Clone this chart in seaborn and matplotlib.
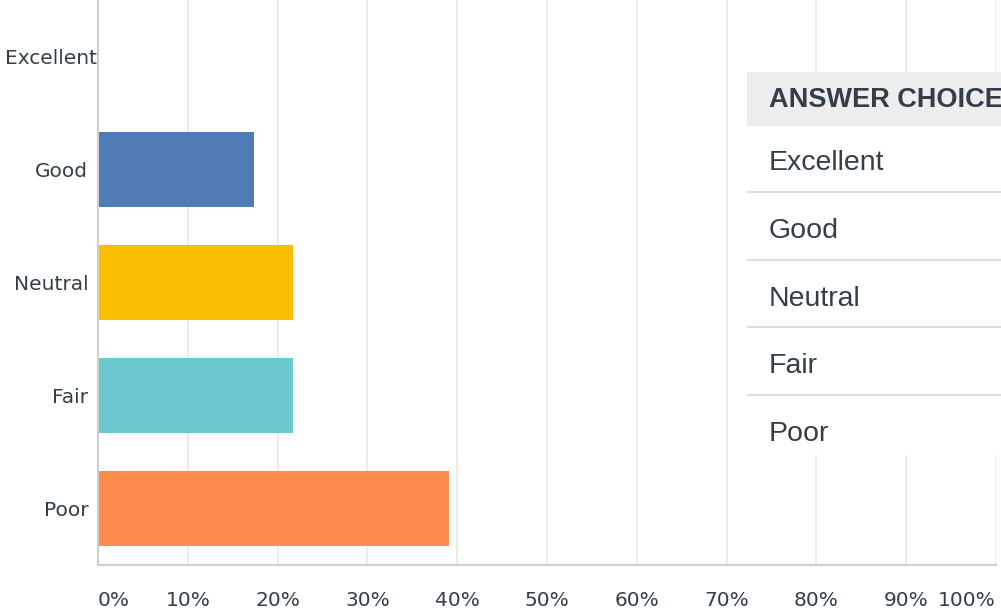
import numpy as np
import pandas as pd

import matplotlib.pyplot as plt
import matplotlib.transforms as mtransforms
from matplotlib.patches import Rectangle
import seaborn as sns

# survey answers (share of respondents, %)
categories = ["Excellent", "Good", "Neutral", "Fair", "Poor"]
shares = [0.0, 17.39, 21.74, 21.74, 39.13]
bar_colors = ["#00bf6f", "#507cb6", "#f9be00", "#6bc8cd", "#ff8b4f"]
tick_values = list(range(0, 101, 10))
tick_labels = [f"{v}%" for v in tick_values]
table_header = "ANSWER CHOICES"

text_color = "#333e48"

sns.set_theme(style="white")
plt.rcParams["font.family"] = ["DejaVu Sans"]

df = pd.DataFrame({"answer": categories, "share": shares})

fig = plt.figure(figsize=(10.01, 6.10), dpi=100)
ax = fig.add_axes([98 / 1001, 45 / 610, 898 / 1001, 565 / 610])

sns.barplot(data=df, x="share", y="answer", hue="answer", palette=bar_colors,
            order=categories, width=0.66, linewidth=0, saturation=1,
            legend=False, ax=ax)

ax.set_xlim(0, 100)
ax.set_ylim(4.5, -0.5)
ax.set_xticks(tick_values)
ax.set_xticklabels(tick_labels)
ax.xaxis.grid(True, color="#e8e8e8", linewidth=1.2)
ax.set_axisbelow(True)
ax.set_xlabel("")
ax.set_ylabel("")
for side in ["top", "right"]:
    ax.spines[side].set_visible(False)
for side in ["left", "bottom"]:
    ax.spines[side].set_color("#cfcfcf")
    ax.spines[side].set_linewidth(1.5)
ax.tick_params(axis="x", length=0, pad=19, labelsize=14.5, labelcolor=text_color)
ax.tick_params(axis="y", length=0, pad=7, labelsize=14.5, labelcolor=text_color)
xl = ax.get_xticklabels()
xl[0].set_horizontalalignment("left")
xl[-1].set_horizontalalignment("right")

# the long top label sits a little further right, as in the original
yl = ax.get_yticklabels()
shift = mtransforms.ScaledTranslation(9 / 100, 0, fig.dpi_scale_trans)
yl[0].set_transform(yl[0].get_transform() + shift)

# answer table panel overlapping the chart on the right
tab = fig.add_axes([747 / 1001, (610 - 455) / 610, 254 / 1001, (455 - 72) / 610])
tab.set_xlim(0, 254)
tab.set_ylim(455, 72)
tab.set_facecolor("white")
tab.axis("off")
tab.add_patch(Rectangle((0, 72), 254, 383, color="white", zorder=0))
tab.add_patch(Rectangle((0, 72), 254, 53, color="#eceeee", zorder=1))
tab.text(22, 100, table_header, fontsize=19.5, fontweight="bold", color=text_color,
         family="Liberation Sans", va="center", ha="left", zorder=2)
row_y = [163, 231, 299, 366, 434]
for label, y in zip(categories, row_y):
    tab.text(22, y, label, fontsize=20.5, color=text_color, family="Liberation Sans",
             va="center", ha="left", zorder=2)
for y in [192, 260, 327, 395]:
    tab.axhline(y, color="#dddddd", linewidth=1.5, zorder=1)

fig.savefig("out.png", dpi=100)
